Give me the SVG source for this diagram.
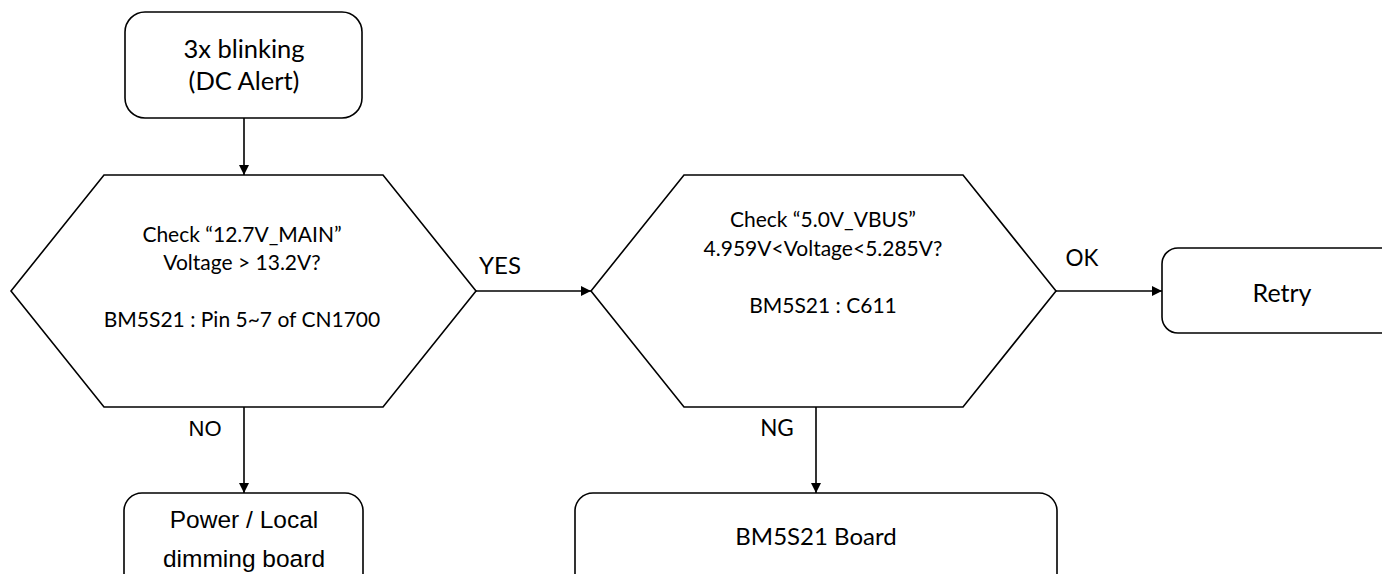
<svg xmlns="http://www.w3.org/2000/svg" width="1382" height="574" viewBox="0 0 1382 574">
<style>
.shape{fill:#fff;stroke:#000;stroke-width:1.6}
.t{font-family:Lato,"Open Sans",sans-serif;fill:#000;text-anchor:middle}
.a{font-family:"Liberation Sans",Arial,sans-serif;fill:#000;text-anchor:middle}
.c{stroke:#000;stroke-width:1.6;fill:none;marker-end:url(#ah)}
</style>
<defs>
<marker id="ah" markerWidth="10" markerHeight="10" refX="10" refY="5" orient="auto" markerUnits="userSpaceOnUse">
<path d="M0,0 L10,5 L0,10 Z" fill="#000"/>
</marker>
</defs>
<rect width="1382" height="574" fill="#fff"/>
<g id="connectors">
<line class="c" x1="244" y1="118" x2="244" y2="175"/>
<line class="c" x1="476" y1="291" x2="591" y2="291"/>
<line class="c" x1="1056" y1="291" x2="1162" y2="291"/>
<line class="c" x1="244" y1="407" x2="244" y2="493"/>
<line class="c" x1="816" y1="407" x2="816" y2="493"/>
<text class="t" x="500" y="274" font-size="24">YES</text>
<text class="t" x="1082" y="266" font-size="22.5">OK</text>
<text class="a" x="205" y="436" font-size="22">NO</text>
<text class="t" x="777" y="436" font-size="22.5">NG</text>
</g>
<g id="start">
<rect class="shape" x="125" y="12" width="237" height="106" rx="20"/>
<text class="t" x="244" y="58" font-size="25.5">3x blinking</text>
<text class="t" x="244" y="90" font-size="25.5">(DC Alert)</text>
</g>
<g id="check1">
<polygon class="shape" points="11,291 104,175 383,175 476,291 383,407 104,407"/>
<text class="t" x="242" y="242" font-size="21">Check “12.7V_MAIN”</text>
<text class="t" x="242" y="270" font-size="21">Voltage &gt; 13.2V?</text>
<text class="t" x="242" y="327" font-size="21">BM5S21 : Pin 5~7 of CN1700</text>
</g>
<g id="check2">
<polygon class="shape" points="591,291 684,175 963,175 1056,291 963,407 684,407"/>
<text class="t" x="823" y="227" font-size="21">Check “5.0V_VBUS”</text>
<text class="t" x="823" y="256" font-size="21">4.959V&lt;Voltage&lt;5.285V?</text>
<text class="t" x="823" y="313" font-size="21">BM5S21 : C611</text>
</g>
<g id="retry">
<rect class="shape" x="1162" y="248" width="240" height="85" rx="16"/>
<text class="t" x="1282" y="302" font-size="25">Retry</text>
</g>
<g id="power">
<rect class="shape" x="124" y="493" width="239" height="110" rx="18"/>
<text class="a" x="244" y="528" font-size="24.5">Power / Local</text>
<text class="a" x="244" y="567" font-size="24.5">dimming board</text>
</g>
<g id="board">
<rect class="shape" x="575" y="493" width="482" height="110" rx="18"/>
<text class="t" x="816" y="545" font-size="24">BM5S21 Board</text>
</g>
</svg>
